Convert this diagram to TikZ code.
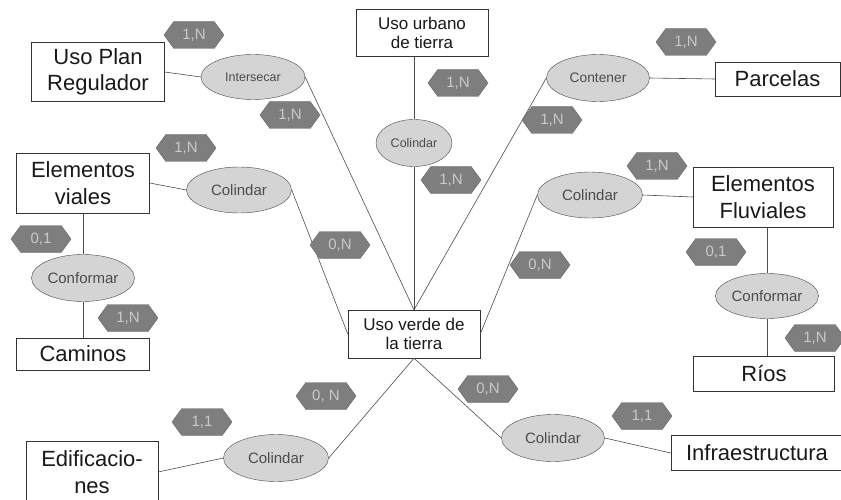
\documentclass[tikz,border=0pt]{standalone}
\usepackage{fontspec}
\setmainfont{Liberation Sans}
\usetikzlibrary{shapes.geometric}
\usetikzlibrary{shapes.symbols}
\definecolor{rel-fill}{HTML}{D4D4D4}
\definecolor{rel-line}{HTML}{474747}
\definecolor{card-fill}{HTML}{7E7E7E}
\definecolor{card-text}{HTML}{C9C9C9}
\colorlet{link-gray}{black!70}
\tikzset{
  entity/.style={draw=black!80, fill=white, align=center, inner sep=0pt,
    font=\fontsize{22}{26.5}\selectfont, text=black!90},
  entity small/.style={entity, font=\fontsize{17}{19.5}\selectfont},
  relation/.style={ellipse, draw=rel-line, fill=rel-fill, inner sep=0pt,
    minimum width=104pt, minimum height=46pt, text=black!70,
    font=\fontsize{15}{18}\selectfont},
  card/.style={signal, signal to=west and east, signal pointer angle=108,
    draw=card-fill!80!black, fill=card-fill, text=card-text, inner sep=0pt,
    minimum width=60pt, minimum height=27pt, font=\fontsize{15}{17}\selectfont},
  link/.style={draw=link-gray, line width=0.6pt},
}
\begin{document}
\begin{tikzpicture}[x=1pt, y=-1pt]
\useasboundingbox (0,0) rectangle (841,500);
% entities
\node[entity, minimum width=133pt, minimum height=59pt] (plan) at (98,72) {Uso Plan\\Regulador};
\node[entity small, minimum width=132pt, minimum height=47pt] (urbano) at (422,33) {Uso urbano\\de tierra};
\node[entity, minimum width=125pt, minimum height=34pt] (parcelas) at (777.5,79) {Parcelas};
\node[entity, minimum width=133pt, minimum height=60pt] (viales) at (83,183) {Elementos\\viales};
\node[entity, minimum width=133pt, minimum height=32pt] (caminos) at (83,354) {Caminos};
\node[entity small, minimum width=132pt, minimum height=48pt] (verde) at (414,334) {Uso verde de\\la tierra};
\node[entity, minimum width=140pt, minimum height=60pt] (fluv) at (763,197) {Elementos\\Fluviales};
\node[entity, minimum width=141pt, minimum height=35pt] (rios) at (764,374) {Ríos};
\node[entity, minimum width=132pt, minimum height=62pt] (edif) at (92,472) {Edificacio-\\nes};
\node[entity, minimum width=172pt, minimum height=35pt] (infra) at (757,453) {Infraestructura};
% relations
\node[relation, font=\fontsize{12.5}{15}\selectfont, minimum height=45pt] (inter) at (253,77) {Intersecar};
\node[relation, font=\fontsize{12.5}{15}\selectfont, minimum width=76pt, minimum height=47pt] (colU) at (414,143) {Colindar};
\node[relation, font=\fontsize{13.8}{16}\selectfont, minimum width=103pt, minimum height=47pt] (cont) at (598,78) {Contener};
\node[relation, minimum width=105pt] (colV) at (239,190) {Colindar};
\node[relation, minimum width=103pt, minimum height=47pt] (confV) at (83,278) {Conformar};
\node[relation, minimum width=105pt] (colF) at (590,195) {Colindar};
\node[relation, minimum width=103pt, minimum height=45pt] (confF) at (767,296) {Conformar};
\node[relation, minimum width=103pt, minimum height=47pt] (colI) at (553,438) {Colindar};
\node[relation, minimum width=105pt, minimum height=47pt] (colE) at (276,458) {Colindar};
% connectors
\draw[link] (plan.east) -- (inter.west);
\draw[link] (inter.east) -- (verde.north);
\draw[link] (colU.north |- urbano.south) -- (colU.north);
\draw[link] (colU.south) -- (verde.north);
\draw[link] (cont.west) -- (verde.north);
\draw[link] (cont.east) -- (parcelas.west);
\draw[link] (viales.east) -- (colV.west);
\draw[link] (colV.east) -- (verde.west);
\draw[link] (viales.south) -- (confV.north);
\draw[link] (confV.south) -- (caminos.north);
\draw[link] (colF.west) -- (verde.east);
\draw[link] (colF.east) -- (fluv.west);
\draw[link] (confF.north |- fluv.south) -- (confF.north);
\draw[link] (confF.south) -- (confF.south |- rios.north);
\draw[link] (verde.south) -- (colE.east);
\draw[link] (edif.east) -- (colE.west);
\draw[link] (verde.south) -- (colI.west);
\draw[link] (colI.east) -- (infra.west);
% cardinalities
\foreach \cx/\cy/\card [count=\i] in {
  194/35/{1,N}, 290/115/{1,N}, 458/83/{1,N}, 451/180/{1,N}, 552/120/{1,N},
  686/42/{1,N}, 186/148/{1,N}, 41/239/{0,1}, 128/318/{1,N}, 340/245/{0,N},
  657/166/{1,N}, 540/265/{0,N}, 716/252/{0,1}, 815/338/{1,N},
  326/396/{0, N}, 202/422/{1,1}, 488/389/{0,N}, 642/416/{1,1}}
  \node[card] (card\i) at (\cx,\cy) {\card};
\end{tikzpicture}
\end{document}
